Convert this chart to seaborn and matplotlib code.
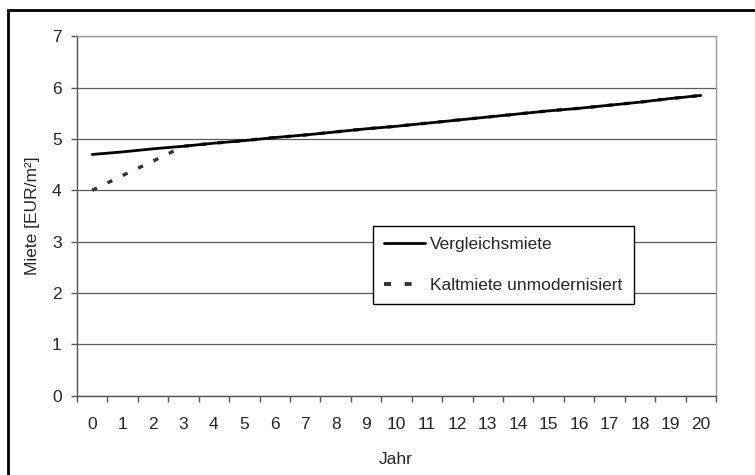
import pandas as pd
import matplotlib
matplotlib.use("Agg")
import matplotlib.pyplot as plt
from matplotlib.patches import Rectangle
from matplotlib.lines import Line2D
from matplotlib.ticker import MultipleLocator, FixedLocator
import seaborn as sns

# values
jahre = list(range(21))
vergleichsmiete = [4.70, 4.75, 4.81, 4.86, 4.92, 4.97, 5.03, 5.08, 5.14, 5.20, 5.25,
                   5.31, 5.37, 5.43, 5.49, 5.55, 5.60, 5.66, 5.72, 5.79, 5.85]
kaltmiete = [4.00, 4.29, 4.57, 4.86, 4.92, 4.97, 5.03, 5.08, 5.14, 5.20, 5.25,
             5.31, 5.37, 5.43, 5.49, 5.55, 5.60, 5.66, 5.72, 5.79, 5.85]

df = pd.DataFrame({"Jahr": jahre, "Vergleichsmiete": vergleichsmiete,
                   "Kaltmiete unmodernisiert": kaltmiete})

sns.set_style("white")
plt.rcParams["font.family"] = ["Liberation Sans", "DejaVu Sans"]
FS = 12.5

W, H = 755, 475
fig = plt.figure(figsize=(W / 100, H / 100), dpi=100)
ax = fig.add_axes([77 / W, 1 - 395.5 / H, (716 - 77) / W, (395.5 - 36.5) / H])

# dashed series first so the solid line sits on top where they coincide
sns.lineplot(data=df, x="Jahr", y="Kaltmiete unmodernisiert", ax=ax, color="#333333",
             linewidth=2.4, legend=False)
ax.lines[-1].set_dashes([1.6, 3.5])
sns.lineplot(data=df, x="Jahr", y="Vergleichsmiete", ax=ax, color="black",
             linewidth=2.0, legend=False)

ax.set_xlim(-0.5, 20.5)
ax.set_ylim(0, 7)
ax.yaxis.set_major_locator(MultipleLocator(1))
ax.xaxis.set_major_locator(FixedLocator(jahre))
ax.xaxis.set_minor_locator(FixedLocator([j + 0.5 for j in range(-1, 21)]))
ax.grid(axis="y", color="#5a5a5a", linewidth=0.9)
ax.set_axisbelow(True)

for side in ["left", "bottom"]:
    ax.spines[side].set_color("#555555")
    ax.spines[side].set_linewidth(1.0)
for side in ["right", "top"]:
    ax.spines[side].set_color("#9a9a9a")
    ax.spines[side].set_linewidth(1.0)

ax.tick_params(axis="y", which="major", direction="out", length=4, width=1,
               color="#555555", pad=7, labelsize=FS, left=True)
ax.tick_params(axis="x", which="major", length=0, pad=15.5, labelsize=FS, bottom=True)
ax.tick_params(axis="x", which="minor", direction="out", length=4, width=1,
               color="#555555", bottom=True)

ax.set_xlabel("")
ax.set_ylabel("")
fig.text(32 / W, 1 - 216 / H, "Miete [EUR/m²]", rotation=90, ha="center", va="center",
         fontsize=FS)
fig.text(396 / W, 1 - 459 / H, "Jahr", ha="center", va="center", fontsize=FS)

handles = [Line2D([], [], color="black", linewidth=2.0),
           Line2D([], [], color="#333333", linewidth=2.8, dashes=[1.8, 3.5, 1.8, 25])]
leg = ax.legend(handles, ["Vergleichsmiete", "Kaltmiete unmodernisiert"],
                loc="upper left", bbox_to_anchor=((373 - 77) / 639, (395.5 - 226) / 359),
                fontsize=FS, frameon=True, fancybox=False, framealpha=1,
                edgecolor="black", borderpad=0.65, labelspacing=1.45,
                handlelength=2.35, handletextpad=0.3, borderaxespad=0)
leg.get_frame().set_linewidth(1.0)

# outer border of the chart area
fig.patches.append(Rectangle((8 / W, -0.01), 1.0, 1 - 10 / H + 0.01, transform=fig.transFigure,
                             fill=False, edgecolor="black", linewidth=2.0))

fig.savefig("out.png", dpi=100)
